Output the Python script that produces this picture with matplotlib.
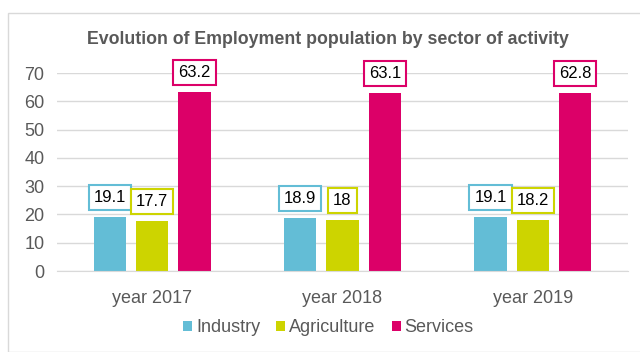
import matplotlib.pyplot as plt
import numpy as np
from matplotlib.patches import Rectangle

plt.rcParams['font.family'] = ['Liberation Sans', 'DejaVu Sans']

years = ["year 2017", "year 2018", "year 2019"]
sectors = ["Industry", "Agriculture", "Services"]
industry = [19.1, 18.9, 19.1]
agriculture = [17.7, 18, 18.2]
services = [63.2, 63.1, 62.8]
colors = ["#63bdd6", "#cdd400", "#dc0068"]

fig = plt.figure(figsize=(6.4, 3.52), dpi=100)
# chart frame
fig.patches.append(Rectangle((8/640, 0), 1.0, 1 - 13/352, transform=fig.transFigure,
                             facecolor="white", edgecolor="#d9d9d9", lw=1, zorder=-1))
ax = fig.add_axes([57/640, 1 - 271/352, (628-57)/640, (271-73)/352])
ax.set_facecolor("none")

x = np.arange(len(years))
w = 0.17
step = 0.222
for i, (name, vals) in enumerate(zip(sectors, [industry, agriculture, services])):
    pos = x + (i - 1) * step
    ax.bar(pos, vals, width=w, color=colors[i], label=name, zorder=2)
    for p, v in zip(pos, vals):
        ax.annotate(f"{v:g}", (p, v), xytext=(0, 14), textcoords="offset points",
                    ha="center", va="center", fontsize=12, color="black",
                    bbox=dict(boxstyle="square,pad=0.3", fc="white", ec=colors[i], lw=1.5),
                    zorder=3)

ax.set_xlim(-0.5, 2.5)
ax.set_ylim(0, 70)
ax.set_yticks(range(0, 71, 10))
ax.set_xticks(x)
ax.set_xticklabels(years)
ax.tick_params(axis="both", length=0, labelsize=13, labelcolor="#595959")
ax.tick_params(axis="x", pad=14)
ax.tick_params(axis="y", pad=9)
ax.yaxis.grid(True, color="#d9d9d9", lw=1, zorder=0)
for s in ["top", "right", "left"]:
    ax.spines[s].set_visible(False)
ax.spines["bottom"].set_color("#d9d9d9")

fig.text(0.513, 1 - 40/352, "Evolution of Employment population by sector of activity",
         ha="center", va="center", fontsize=12.8, fontweight="bold", color="#595959")

fig.legend(loc="center", bbox_to_anchor=(0.513, 1 - 328/352), ncol=3, frameon=False,
           fontsize=13, labelcolor="#595959", handlelength=0.5, handleheight=0.5,
           handletextpad=0.2, columnspacing=0.9)

fig.savefig("out.png", dpi=100)
